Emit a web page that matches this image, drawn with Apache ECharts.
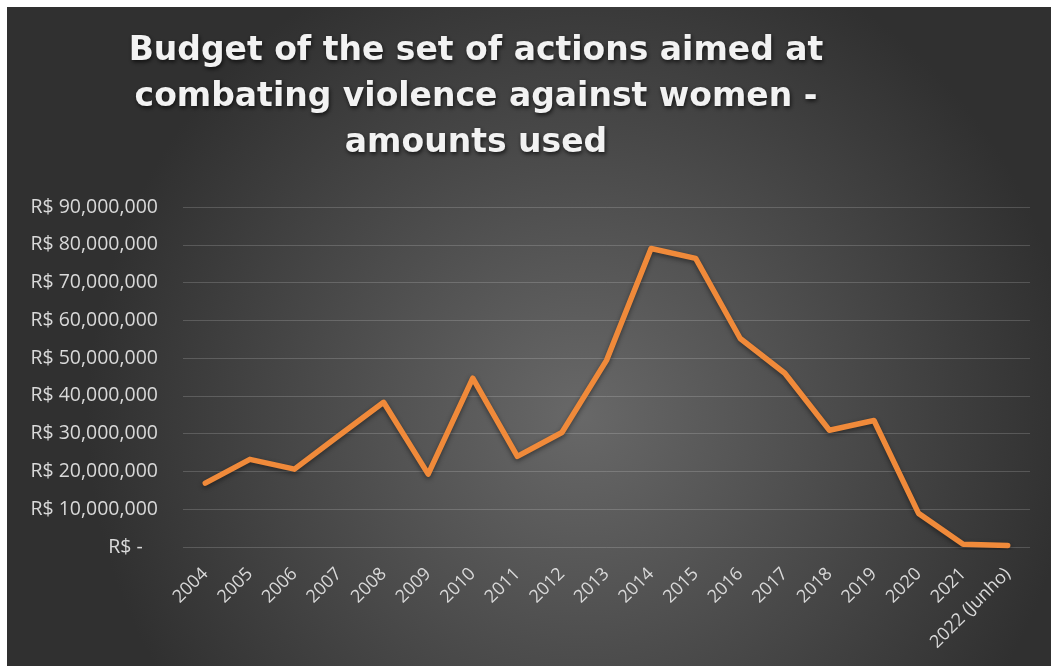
<!DOCTYPE html>
<html>
<head>
<meta charset="utf-8">
<script src="https://cdn.jsdelivr.net/npm/echarts@6/dist/echarts.min.js"></script>
<style>
html,body{margin:0;padding:0;background:#fff;}
#chart{width:1051px;height:666px;}
</style>
</head>
<body>
<div id="chart"></div>
<script>
const titleText = 'Budget of the set of actions aimed at\ncombating violence against women -\namounts used';
const categories = ['2004','2005','2006','2007','2008','2009','2010','2011','2012','2013','2014','2015','2016','2017','2018','2019','2020','2021','2022 (Junho)'];
const amounts = [16900000, 23200000, 20600000, 29500000, 38300000, 19300000, 44700000, 24000000, 30300000, 49400000, 79000000, 76400000, 55200000, 46000000, 30900000, 33500000, 8900000, 700000, 400000];
const yTicks = [0, 10000000, 20000000, 30000000, 40000000, 50000000, 60000000, 70000000, 80000000, 90000000];

const chart = echarts.init(document.getElementById('chart'), null, {renderer:'canvas'});
function fmt(v){
  if (v === 0) return 'R$ -   ';
  return 'R$ ' + v.toLocaleString('en-US');
}
chart.setOption({
  backgroundColor: '#ffffff',
  graphic: [{
    type: 'rect', z: -10, silent: true,
    shape: {x: 7, y: 7, width: 1044, height: 659},
    style: {
      fill: {
        type: 'radial', x: 0.55, y: 0.62, r: 0.75,
        colorStops: [{offset: 0, color: '#686868'}, {offset: 1, color: '#303030'}]
      }
    }
  }],
  title: {
    text: titleText,
    left: 471, top: 23, textAlign: 'center',
    textStyle: {
      color: '#f2f2f2', fontFamily: 'DejaVu Sans', fontWeight: 'bold', fontSize: 33, lineHeight: 46,
      textShadowColor: 'rgba(0,0,0,0.7)', textShadowBlur: 4, textShadowOffsetX: 1, textShadowOffsetY: 2
    }
  },
  grid: {left: 183, right: 21, top: 207, bottom: 119, containLabel: false},
  xAxis: {
    type: 'category', data: categories, boundaryGap: true,
    axisLine: {show: false}, axisTick: {show: false},
    axisLabel: {color: '#d9d9d9', fontFamily: 'Open Sans', fontSize: 18, rotate: 45, margin: 24, interval: 0}
  },
  yAxis: {
    type: 'value', min: yTicks[0], max: yTicks[yTicks.length-1], interval: 10000000,
    axisLine: {show: false}, axisTick: {show: false},
    splitLine: {lineStyle: {color: 'rgba(255,255,255,0.17)', width: 1}},
    axisLabel: {color: '#d9d9d9', fontFamily: 'Open Sans', fontSize: 19.5, margin: 25, formatter: fmt}
  },
  series: [{
    type: 'line', data: amounts, symbol: 'none', smooth: false,
    lineStyle: {color: '#F08A3A', width: 5.5, cap: 'round', join: 'round',
      shadowColor: 'rgba(0,0,0,0.45)', shadowBlur: 5, shadowOffsetY: 2},
    animation: false
  }],
  animation: false
});
</script>
</body>
</html>
